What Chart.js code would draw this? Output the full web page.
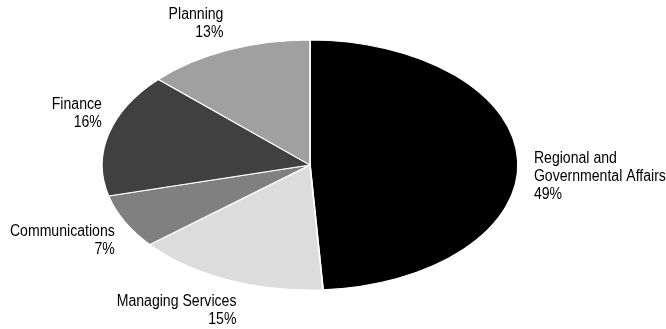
<!DOCTYPE html>
<html>
<head>
<meta charset="utf-8">
<script src="https://cdn.jsdelivr.net/npm/chart.js@4/dist/chart.umd.min.js"></script>
<style>
  html, body { margin: 0; padding: 0; background: #fff; }
  #wrap { width: 666px; height: 329px; position: relative; }
</style>
</head>
<body>
<div id="wrap"><canvas id="chart"></canvas></div>
<script>
const categories = [['Regional and', 'Governmental Affairs'], 'Managing Services', 'Communications', 'Finance', 'Planning'];
const shares = [49, 15, 7, 16, 13];
const sliceColors = ['#000000', '#dcdcdc', '#808080', '#404040', '#a0a0a0'];

// pie is drawn as a circle and stretched sideways into an ellipse
const stretchX = 208 / 125;
// narrow look: regular face squeezed horizontally
const labelFont = '16px "Liberation Sans", Arial, sans-serif';
const narrow = 0.88;
const lineH = 18;
const labelNudge = [[6, 16], [13, 4], [-1, -4], [3, 0], [0, 0]];

const ellipsePie = {
  id: 'ellipsePie',
  beforeDatasetsDraw(chart) {
    const arc = chart.getDatasetMeta(0).data[0];
    const ctx = chart.ctx;
    ctx.save();
    ctx.translate(arc.x, arc.y);
    ctx.scale(stretchX, 1);
    ctx.translate(-arc.x, -arc.y);
  },
  afterDatasetsDraw(chart) {
    chart.ctx.restore();
  }
};

const outsideLabels = {
  id: 'outsideLabels',
  afterDraw(chart) {
    const ctx = chart.ctx;
    const arcs = chart.getDatasetMeta(0).data;
    const values = chart.data.datasets[0].data;
    const total = values.reduce((a, b) => a + b, 0);
    ctx.save();
    ctx.font = labelFont;
    ctx.fillStyle = '#000';
    ctx.textBaseline = 'middle';
    arcs.forEach((arc, i) => {
      const mid = (arc.startAngle + arc.endAngle) / 2;
      const c = Math.cos(mid), s = Math.sin(mid);
      const gap = 10;
      const ax = arc.x + (arc.outerRadius * stretchX) * c + gap * c;
      const ay = arc.y + arc.outerRadius * s + gap * s;
      const name = chart.data.labels[i];
      const lines = (Array.isArray(name) ? name : [name]).concat(Math.round(values[i] / total * 100) + '%');
      const w = Math.max(...lines.map(l => ctx.measureText(l).width)) * narrow;
      const h = lines.length * lineH;
      let left = c < -0.3 ? ax - w : (c > 0.3 ? ax : ax - w / 2);
      let top = s < -0.2 ? ay - h : (s > 0.2 ? ay : ay - h / 2);
      left += labelNudge[i][0];
      top += labelNudge[i][1];
      ctx.textAlign = c < 0 ? 'right' : 'left';
      const tx = c < 0 ? left + w : left;
      lines.forEach((l, k) => {
        ctx.save();
        ctx.translate(tx, top + lineH * (k + 0.5));
        ctx.scale(narrow, 1);
        ctx.fillText(l, 0, 0);
        ctx.restore();
      });
    });
    ctx.restore();
  }
};

new Chart(document.getElementById('chart'), {
  type: 'pie',
  data: {
    labels: categories,
    datasets: [{
      data: shares,
      backgroundColor: sliceColors,
      borderColor: '#ffffff',
      borderWidth: 1,
      radius: 125,
      clip: false
    }]
  },
  options: {
    responsive: true,
    maintainAspectRatio: false,
    animation: false,
    layout: { padding: { left: 185, right: 231, top: 40, bottom: 39 } },
    plugins: {
      legend: { display: false },
      tooltip: { enabled: false }
    }
  },
  plugins: [ellipsePie, outsideLabels]
});
</script>
</body>
</html>
